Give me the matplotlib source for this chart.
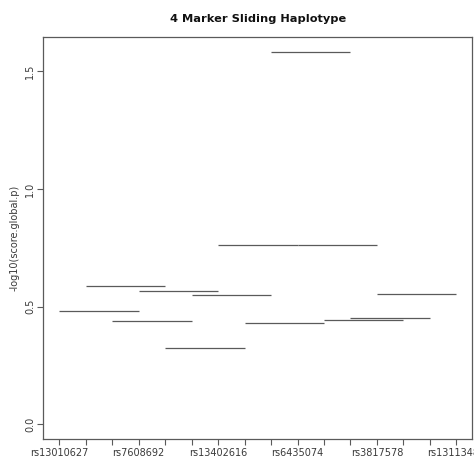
import matplotlib
matplotlib.use("Agg")
import matplotlib.pyplot as plt

# Data
n_markers = 16
window = 4
label_markers = [1, 4, 7, 10, 13, 16]
label_names = ["rs13010627", "rs7608692", "rs13402616", "rs6435074", "rs3817578", "rs13113480"]
scores = [0.483, 0.586, 0.439, 0.566, 0.325, 0.551, 0.763, 0.432, 1.582, 0.763, 0.445, 0.452, 0.553]
yticks = [0.0, 0.5, 1.0, 1.5]

W, H = 474, 457
fig = plt.figure(figsize=(W / 100, H / 100), dpi=100)
ax = fig.add_axes([43.3 / W, 1 - 439.2 / H, (472.3 - 43.3) / W, (439.2 - 37) / H])

line_col = "#5a5a5a"
text_col = "#3a3a3a"
for i, s in enumerate(scores):
    start = i + 1
    ax.plot([start, start + window - 1], [s, s], color=line_col, lw=0.9, solid_capstyle="butt")

ymax = max(scores)
ax.set_xlim(1 - 0.04 * (n_markers - 1), n_markers + 0.04 * (n_markers - 1))
ax.set_ylim(-0.04 * ymax, ymax * 1.04)

ax.set_xticks(range(1, n_markers + 1))
xt = [""] * n_markers
for m, nm in zip(label_markers, label_names):
    xt[m - 1] = nm
ax.set_xticklabels(xt, fontsize=7, color=text_col)
ax.set_yticks(yticks)
ax.set_yticklabels([f"{v:.1f}" for v in yticks], fontsize=7, color=text_col, rotation=90, va="center")
ax.tick_params(axis="both", length=4, width=0.8, color=line_col, pad=2)

for sp in ax.spines.values():
    sp.set_color(line_col)
    sp.set_linewidth(0.9)

ax.set_ylabel("-log10(score.global.p)", fontsize=7, color=text_col, labelpad=4)
ax.set_title("4 Marker Sliding Haplotype", fontsize=8.2, fontweight="bold", color="#111111", pad=11)

fig.savefig("out.png", dpi=100)
